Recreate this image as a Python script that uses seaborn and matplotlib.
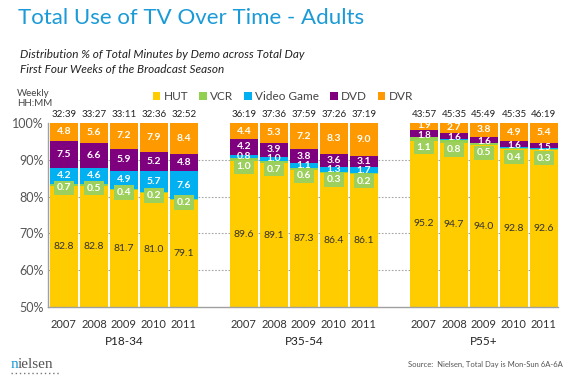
import matplotlib
matplotlib.use("Agg", force=True)
import matplotlib.pyplot as plt
from matplotlib.lines import Line2D
from matplotlib.patches import Patch
import pandas as pd
import seaborn as sns


GROUPS = ["P18-34", "P35-54", "P55+"]
YEARS = ["2007", "2008", "2009", "2010", "2011"]
SEGMENTS = ["HUT", "VCR", "Video Game", "DVD", "DVR"]
COLORS = {"HUT": "#FFCC00", "VCR": "#92D050", "Video Game": "#00B0F0", "DVD": "#7F007F", "DVR": "#FF9900"}

# values per demo, 2007..2011
HUT = [82.8, 82.8, 81.7, 81.0, 79.1, 89.6, 89.1, 87.3, 86.4, 86.1, 95.2, 94.7, 94.0, 92.8, 92.6]
VCR = [0.7, 0.5, 0.4, 0.2, 0.2, 1.0, 0.7, 0.6, 0.3, 0.2, 1.1, 0.8, 0.5, 0.4, 0.3]
VIDEO_GAME = [4.2, 4.6, 4.9, 5.7, 7.6, 0.8, 1.0, 1.1, 1.3, 1.7, 0.0, 0.2, 0.1, 0.3, 0.2]
DVD = [7.5, 6.6, 5.9, 5.2, 4.8, 4.2, 3.9, 3.8, 3.6, 3.1, 1.8, 1.6, 1.6, 1.6, 1.5]
DVR = [4.8, 5.6, 7.2, 7.9, 8.4, 4.4, 5.3, 7.2, 8.3, 9.0, 1.9, 2.7, 3.8, 4.9, 5.4]
WEEKLY = ["32:39", "33:27", "33:11", "32:36", "32:52",
          "36:19", "37:36", "37:59", "37:26", "37:19",
          "43:57", "45:35", "45:49", "45:35", "46:19"]

SERIES = {"HUT": HUT, "VCR": VCR, "Video Game": VIDEO_GAME, "DVD": DVD, "DVR": DVR}


def build_frame() -> pd.DataFrame:
    rows = []
    for g, group in enumerate(GROUPS):
        for y, year in enumerate(YEARS):
            i = g * 5 + y
            pos = g * 6 + y
            base = 0.0
            for seg in SEGMENTS:
                val = SERIES[seg][i]
                rows.append(dict(group=group, year=year, idx=i, pos=pos, segment=seg,
                                 value=val, bottom=base, top=base + val))
                base += val
    return pd.DataFrame(rows)


def main() -> None:
    sns.set_style("white")
    plt.rcParams["font.family"] = ["Lato", "DejaVu Sans"]

    df = build_frame()
    fig = plt.figure(figsize=(5.7, 3.83), dpi=100)
    ax = fig.add_axes([48 / 570, 1 - 307 / 383, 510 / 570, 184 / 383])

    for y in [60, 70, 80, 90]:
        ax.axhline(y, color="#a6a6a6", lw=0.8, ls=(0, (1.5, 1.5)), zorder=0)

    # stack by overlapping cumulative totals, top segment first
    for seg in reversed(SEGMENTS):
        sub = df[df["segment"] == seg]
        sns.barplot(data=sub, x="pos", y="top", native_scale=True, color=COLORS[seg],
                    saturation=1, width=0.93, linewidth=0, errorbar=None, ax=ax, zorder=2)

    ax.set_xlim(-0.53, 16.47)
    ax.set_ylim(50, 100)
    ax.set_yticks([50, 60, 70, 80, 90, 100])
    ax.set_yticklabels([f"{v}%" for v in [50, 60, 70, 80, 90, 100]], fontsize=9, color="#555555")
    positions = sorted(df["pos"].unique())
    ax.set_xticks(positions)
    ax.set_xticklabels(YEARS * 3, fontsize=8, color="#333333")
    ax.tick_params(axis="both", length=0)
    ax.tick_params(axis="x", pad=9)
    ax.tick_params(axis="y", pad=3)
    ax.set_xlabel("")
    ax.set_ylabel("")
    for side in ["top", "right"]:
        ax.spines[side].set_visible(False)
    for side in ["left", "bottom"]:
        ax.spines[side].set_color("#a0a0a0")
        ax.spines[side].set_linewidth(1.0)

    vcr_offset = {"P18-34": 0.8, "P35-54": 2.0, "P55+": 2.3}
    white = dict(ha="center", va="center", fontsize=7.5, fontweight="bold", color="white", zorder=5)
    for _, r in df.iterrows():
        mid = (r["bottom"] + r["top"]) / 2
        label = f"{r['value']:.1f}"
        if r["segment"] == "HUT":
            ax.text(r["pos"], (50 + r["top"]) / 2, label, ha="center", va="center",
                    fontsize=7.5, color="#333333", zorder=5)
        elif r["segment"] == "VCR":
            ax.text(r["pos"], mid - vcr_offset[r["group"]], label,
                    bbox=dict(boxstyle="square,pad=0.25", fc="#9ccf5c", ec="none"), **white)
        elif r["segment"] == "Video Game":
            if r["group"] != "P55+":
                ax.text(r["pos"], mid, label, **white)
        elif r["group"] == "P55+" and r["value"] < 2.5:
            # thin slices: spread the two top labels apart a little
            shift = 0.3 if r["segment"] == "DVR" else -0.5
            ax.text(r["pos"], mid + shift, label, **{**white, "fontsize": 7})
        else:
            ax.text(r["pos"], mid, label, **white)

    for p, w in zip(positions, WEEKLY):
        ax.text(p, 102.4, w, ha="center", va="center", fontsize=7, color="#222222", clip_on=False)

    for g, group in enumerate(GROUPS):
        ax.text(g * 6 + 2, 40.6, group, ha="center", va="center", fontsize=8.5,
                color="#222222", clip_on=False)

    fig.text(17 / 570, 1 - 94 / 383, "Weekly", fontsize=7, color="#444444", va="center")
    fig.text(17 / 570, 1 - 104 / 383, "HH:MM", fontsize=7, color="#444444", va="center")

    handles = [Patch(facecolor=COLORS[s], edgecolor="none") for s in SEGMENTS]
    fig.legend(handles, SEGMENTS, ncol=5, loc="center", bbox_to_anchor=(283 / 570, 1 - 97 / 383),
               frameon=False, fontsize=8.5, handlelength=0.65, handleheight=0.65, handletextpad=0.3,
               columnspacing=0.9, labelcolor="#444444")

    fig.text(18 / 570, 1 - 18 / 383, "Total Use of TV Over Time - Adults", fontsize=16,
             color="#1a9ad6", va="center")
    fig.text(20 / 570, 1 - 54 / 383, "Distribution % of Total Minutes by Demo across Total Day",
             fontsize=8.5, style="italic", color="#222222", va="center")
    fig.text(20 / 570, 1 - 69 / 383, "First Four Weeks of the Broadcast Season",
             fontsize=8.5, style="italic", color="#222222", va="center")

    fig.text(11 / 570, 1 - 364 / 383, "n", fontsize=11, color="#1a9ad6", va="center",
             family="Liberation Serif")
    fig.text(18 / 570, 1 - 364 / 383, "ielsen", fontsize=11, color="#555555", va="center",
             family="Liberation Serif")
    fig.add_artist(Line2D([11 / 570, 61 / 570], [1 - 373 / 383] * 2, color="#777777",
                          lw=1, ls=(0, (1, 2))))
    fig.text(563 / 570, 1 - 364 / 383, "Source:  Nielsen, Total Day is Mon-Sun 6A-6A",
             fontsize=5.5, color="#555555", ha="right", va="center")

    fig.savefig("out.png", dpi=100)
    plt.close(fig)


if __name__ == "__main__":
    main()
